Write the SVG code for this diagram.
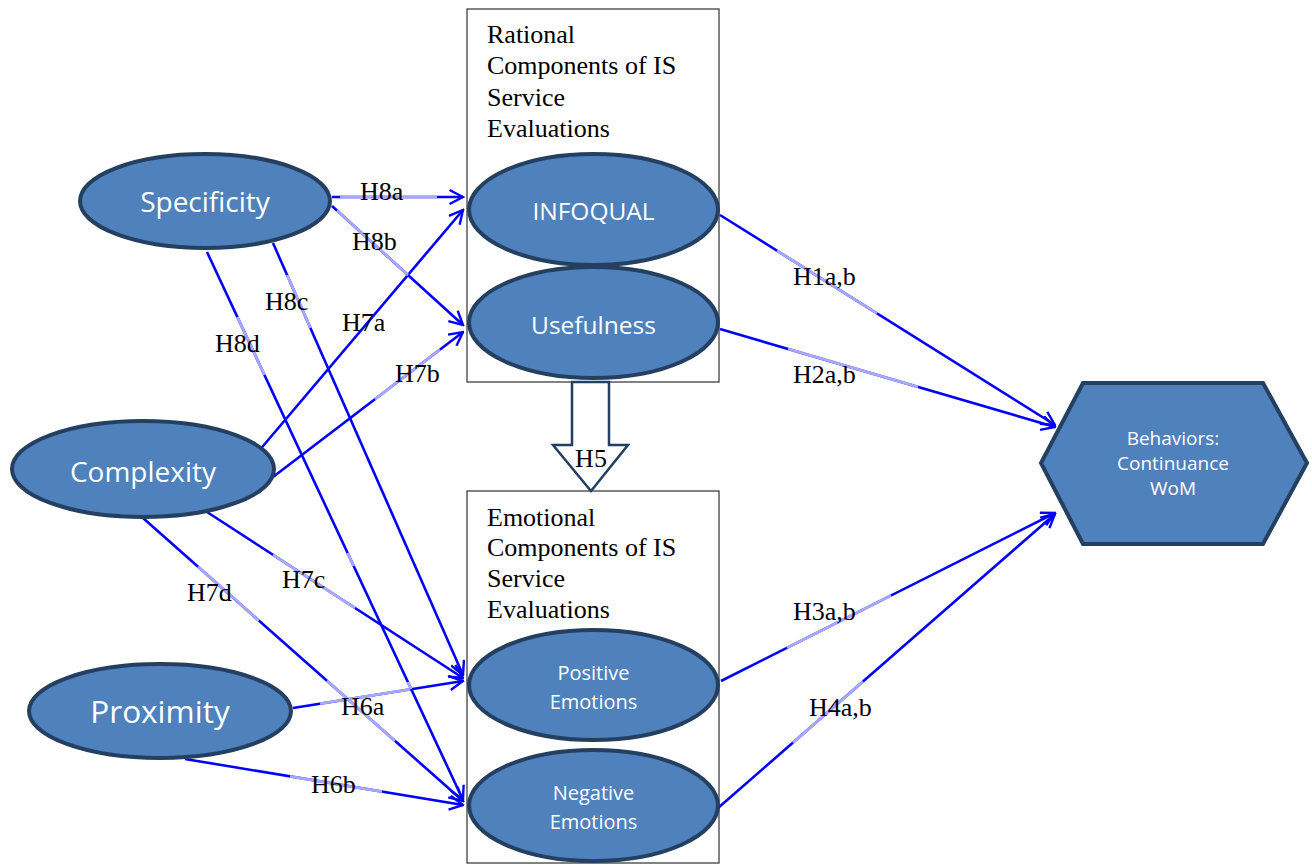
<svg xmlns="http://www.w3.org/2000/svg" width="1312" height="865" viewBox="0 0 1312 865">
<defs>
<style>
.node{fill:#4f81bd;stroke:#243f60;stroke-width:4}
.box{fill:#ffffff;stroke:#404040;stroke-width:1.3}
.nt{font-family:"Open Sans","Noto Sans",sans-serif;fill:#ffffff;text-anchor:middle}
.bt{font-family:"Liberation Serif","Times New Roman",serif;font-size:26px;fill:#000000}
.lbl{font-family:"Liberation Serif","Times New Roman",serif;font-size:26px;fill:#000000}
.ca{stroke:#0000ff;stroke-width:2.6;fill:none;marker-end:url(#ah)}
.lt{stroke:#a8a8ff;stroke-width:2.8;fill:none}
</style>
<marker id="ah" viewBox="0 0 16 16" refX="14.5" refY="8" markerWidth="16" markerHeight="16" markerUnits="userSpaceOnUse" orient="auto">
<path d="M1,1 L14.5,8 L1,15" fill="none" stroke="#0000ff" stroke-width="2.4"/>
</marker>
</defs>
<rect x="0" y="0" width="1312" height="865" fill="#ffffff"/>

<g id="rational-box">
<rect class="box" x="467" y="9" width="252" height="373"/>
<text class="bt" x="487" y="43">Rational</text>
<text class="bt" x="487" y="74">Components of IS</text>
<text class="bt" x="487" y="106">Service</text>
<text class="bt" x="487" y="137">Evaluations</text>
</g>

<g id="emotional-box">
<rect class="box" x="467" y="491" width="252" height="372"/>
<text class="bt" x="487" y="526">Emotional</text>
<text class="bt" x="487" y="556">Components of IS</text>
<text class="bt" x="487" y="587">Service</text>
<text class="bt" x="487" y="618">Evaluations</text>
</g>

<g id="h5-arrow">
<path d="M572,382 L609,382 L609,445 L628,445 L591,491 L553,445 L572,445 Z" fill="#ffffff" stroke="#243f60" stroke-width="2.5" stroke-linejoin="miter"/>
<text class="lbl" x="591" y="467" text-anchor="middle">H5</text>
</g>

<g id="connectors">
<line class="ca" x1="332" y1="197" x2="463" y2="197"/>
<line class="ca" x1="332" y1="206" x2="463" y2="325"/>
<line class="ca" x1="273" y1="243" x2="463" y2="675"/>
<line class="ca" x1="207" y1="252" x2="463" y2="800"/>
<line class="ca" x1="258" y1="452" x2="463" y2="210"/>
<line class="ca" x1="273" y1="477" x2="463" y2="332"/>
<line class="ca" x1="207" y1="512" x2="463" y2="678"/>
<line class="ca" x1="143" y1="518" x2="463" y2="801"/>
<line class="ca" x1="293" y1="708" x2="463" y2="681"/>
<line class="ca" x1="185" y1="759" x2="463" y2="805"/>
<line class="ca" x1="720" y1="215" x2="1055" y2="425"/>
<line class="ca" x1="720" y1="329" x2="1055" y2="427"/>
<line class="ca" x1="721" y1="681" x2="1055" y2="513"/>
<line class="ca" x1="718" y1="808" x2="1055" y2="514"/>
<line class="lt" x1="340" y1="197" x2="437" y2="197"/>
<line class="lt" x1="337" y1="210.5" x2="408" y2="275"/>
<line class="lt" x1="287.1" y1="275" x2="310.4" y2="328"/>
<line class="lt" x1="237.4" y1="317" x2="264.5" y2="375"/>
<line class="lt" x1="347.6" y1="553" x2="353.7" y2="566"/>
<line class="lt" x1="407.9" y1="682" x2="411.2" y2="689"/>
<line class="lt" x1="375" y1="399.2" x2="440" y2="349.6"/>
<line class="lt" x1="273" y1="554.8" x2="355" y2="608"/>
<line class="lt" x1="198" y1="566.6" x2="259" y2="620.6"/>
<line class="lt" x1="327" y1="680.7" x2="395" y2="740.9"/>
<line class="lt" x1="320" y1="703.7" x2="410" y2="689.4"/>
<line class="lt" x1="290" y1="776.4" x2="382" y2="791.6"/>
<line class="lt" x1="777" y1="250.7" x2="877" y2="313.4"/>
<line class="lt" x1="788" y1="348.9" x2="918" y2="386.9"/>
<line class="lt" x1="787" y1="647.8" x2="891" y2="595.5"/>
<line class="lt" x1="793" y1="742.6" x2="863" y2="681.5"/>
</g>

<g id="connector-labels">
<text class="lbl" x="360" y="200">H8a</text>
<text class="lbl" x="352" y="250">H8b</text>
<text class="lbl" x="265" y="310">H8c</text>
<text class="lbl" x="215" y="352">H8d</text>
<text class="lbl" x="342" y="331">H7a</text>
<text class="lbl" x="395" y="382">H7b</text>
<text class="lbl" x="282" y="588">H7c</text>
<text class="lbl" x="187" y="601">H7d</text>
<text class="lbl" x="341" y="715">H6a</text>
<text class="lbl" x="311" y="793">H6b</text>
<text class="lbl" x="793" y="285">H1a,b</text>
<text class="lbl" x="793" y="383">H2a,b</text>
<text class="lbl" x="793" y="620">H3a,b</text>
<text class="lbl" x="809" y="716">H4a,b</text>
</g>

<g id="specificity">
<ellipse class="node" cx="205" cy="201" rx="125" ry="47"/>
<text class="nt" x="205" y="212" font-size="28">Specificity</text>
</g>
<g id="complexity">
<ellipse class="node" cx="143" cy="469" rx="131" ry="48"/>
<text class="nt" x="143" y="482" font-size="28">Complexity</text>
</g>
<g id="proximity">
<ellipse class="node" cx="160" cy="711" rx="131" ry="47"/>
<text class="nt" x="160" y="723" font-size="31.5">Proximity</text>
</g>
<g id="infoqual">
<ellipse class="node" cx="593.5" cy="209.5" rx="124.5" ry="55.5"/>
<text class="nt" x="593.5" y="220" font-size="24.5">INFOQUAL</text>
</g>
<g id="usefulness">
<ellipse class="node" cx="593.5" cy="322.5" rx="124.5" ry="55.5"/>
<text class="nt" x="593.5" y="334" font-size="24.5">Usefulness</text>
</g>
<g id="positive-emotions">
<ellipse class="node" cx="593.5" cy="685" rx="124.5" ry="55"/>
<text class="nt" x="593.5" y="680" font-size="20">Positive</text>
<text class="nt" x="593.5" y="709" font-size="20">Emotions</text>
</g>
<g id="negative-emotions">
<ellipse class="node" cx="593.5" cy="805.5" rx="124.5" ry="55.5"/>
<text class="nt" x="593.5" y="800" font-size="20">Negative</text>
<text class="nt" x="593.5" y="829" font-size="20">Emotions</text>
</g>
<g id="behaviors">
<polygon class="node" stroke-width="4.5" points="1083,383 1263,383 1307,463 1263,544 1083,544 1041,463"/>
<text class="nt" x="1173" y="445" font-size="19">Behaviors:</text>
<text class="nt" x="1173" y="470" font-size="19">Continuance</text>
<text class="nt" x="1173" y="495" font-size="19">WoM</text>
</g>
</svg>
